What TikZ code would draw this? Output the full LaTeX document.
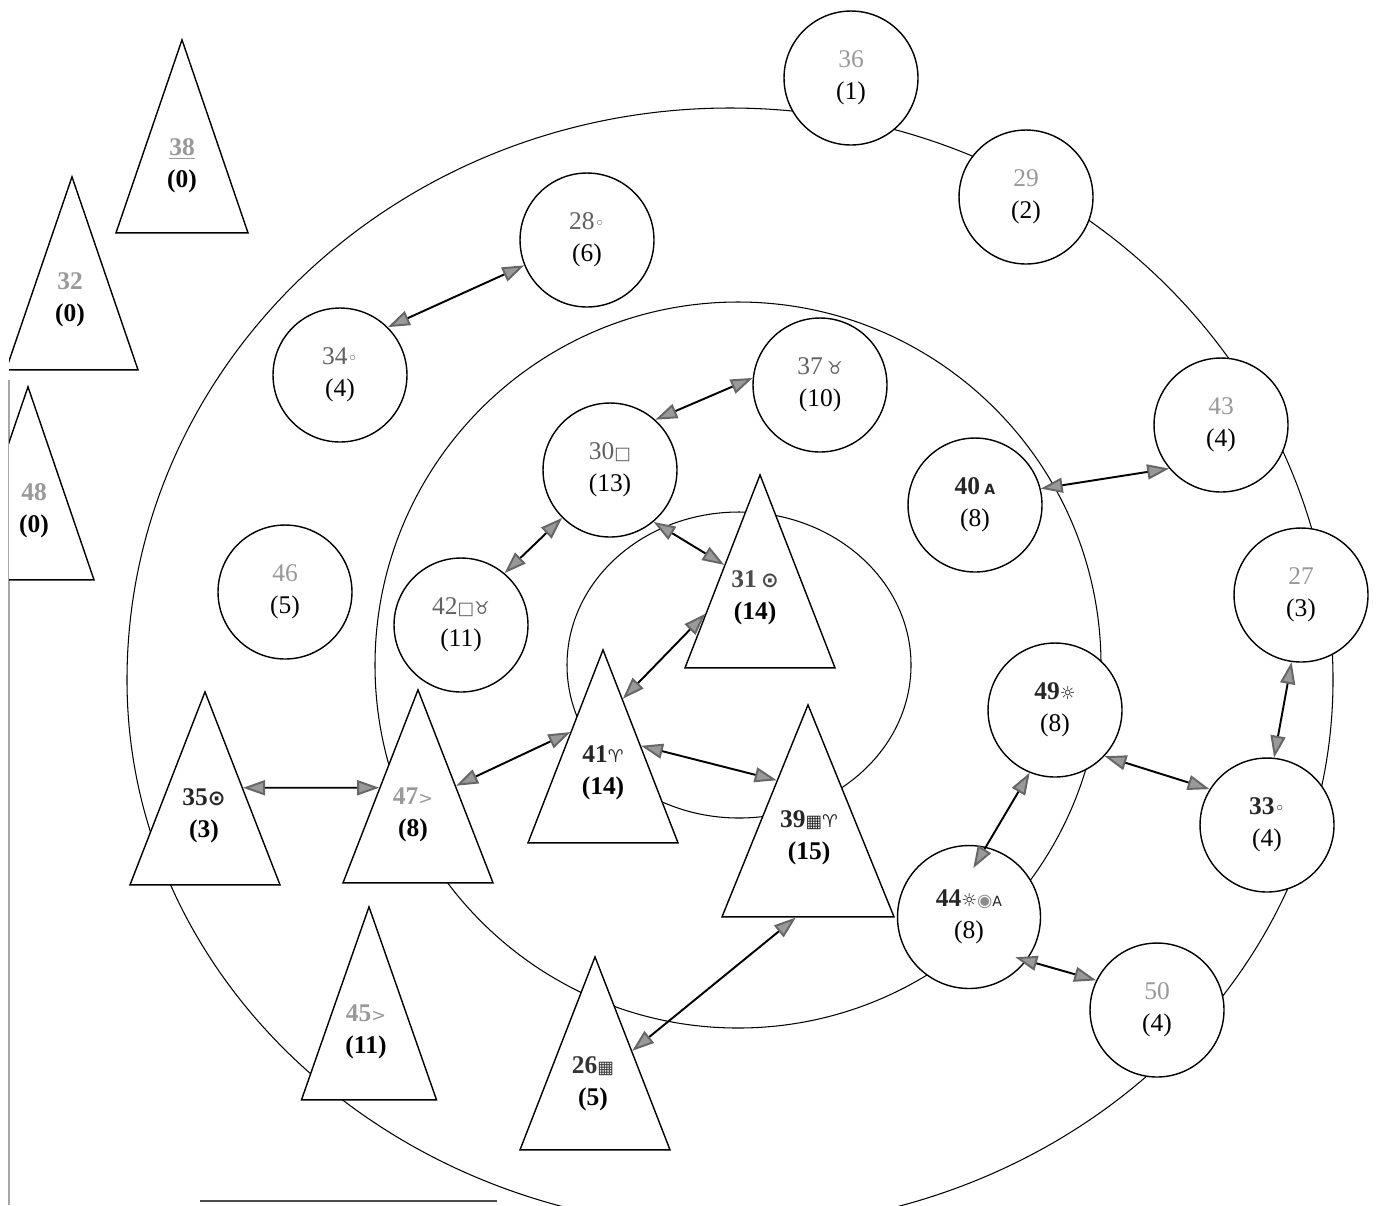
\documentclass[tikz,border=0pt]{standalone}
\usepackage{fontspec}
\setmainfont{Liberation Serif}
\newfontfamily\symf{DejaVu Sans}
\usetikzlibrary{shapes.geometric,arrows.meta,calc}
% small marker glyphs set after the node numbers
\newcommand{\sy}[1]{{\symf\fontsize{10}{10}\selectfont\mdseries #1}}
\newcommand{\syb}[1]{{\symf\fontsize{12}{12}\selectfont\bfseries #1}}

\begin{document}
\begin{tikzpicture}[x=0.02cm,y=-0.02cm,
  every node/.style={font=\fontsize{14.5}{18}\selectfont},
  ring/.style={line width=0.6pt},
  circ/.style={circle,draw,line width=0.8pt,fill=white,minimum size=2.68cm,inner sep=0pt,align=center},
  tri/.style={isosceles triangle,shape border rotate=90,isosceles triangle stretches,
    draw,line width=0.8pt,fill=white,minimum width=3cm,minimum height=3.86cm,inner sep=0pt,anchor=apex},
  tlab/.style={align=center,inner sep=0pt,font=\fontsize{14.5}{18}\selectfont\bfseries},
  conn/.style={line width=1.1pt,<->,
    >={Triangle[length=0.44cm,width=0.3cm,fill=black!40,color=black!60]}},
]
\path[use as bounding box] (0,0) rectangle (1378,1205);
\clip (0,0) rectangle (1378,1205);

% page edge lines
\draw[black!35,line width=0.6pt] (9,380) -- (9,1205);
\draw[black!70,line width=0.8pt] (200,1201) -- (497,1201);

% the three rings
\draw[ring] (127,680) arc[start angle=180,end angle=360,x radius=603,y radius=572]
            arc[start angle=0,end angle=180,x radius=603,y radius=548];
\draw[ring] (738,665) circle[radius=363];
\draw[ring] (739,665) ellipse[x radius=172,y radius=153];

% triangles
\node[tri,minimum width=2.64cm] (t38) at (182,38) {};
\begin{scope}
  \clip (9,0) rectangle (1378,1205);
  \node[tri,minimum width=2.64cm] (t32) at (72,175) {};
  \node[tri,minimum width=2.64cm] (t48) at (28,385) {};
\end{scope}
\node[tri] (t31) at (760,473) {};
\node[tri] (t41) at (603,648) {};
\node[tri,minimum width=3.44cm,minimum height=4.24cm] (t39) at (808,703) {};
\node[tri] (t35) at (205,690) {};
\node[tri] (t47) at (418,688) {};
\node[tri,minimum width=2.7cm] (t45) at (369,905) {};
\node[tri] (t26) at (595,955) {};

\node[tlab] (l38) at (182,166) {{\color{black!40}\underline{38}}\\(0)};
\node[tlab] (l32) at (70,300) {{\color{black!40}32}\\(0)};
\node[tlab] (l48) at (34,511) {{\color{black!40}48}\\(0)};
\node[tlab] (l31) at (755,598) {{\color{black!70}31\,\syb{⊙}}\\(14)};
\node[tlab] (l41) at (603,773) {{\color{black!85}41\sy{♈}}\\(14)};
\node[tlab] (l39) at (809,838) {{\color{black!85}39\sy{▦♈}}\\(15)};
\node[tlab] (l35) at (204,816) {{\color{black!85}35\syb{⊙}}\\(3)};
\node[tlab] (l47) at (413,815) {{\color{black!40}47\sy{>}}\\(8)};
\node[tlab] (l45) at (366,1032) {{\color{black!40}45\sy{>}}\\(11)};
\node[tlab] (l26) at (593,1084) {{\color{black!80}26\sy{▦}}\\(5)};

% circles
\node[circ] (n36) at (851,78)   {{\color{black!40}36}\\(1)};
\node[circ] (n29) at (1026,197) {{\color{black!40}29}\\(2)};
\node[circ] (n28) at (587,240)  {{\color{black!62}28\sy{◦}}\\(6)};
\node[circ] (n34) at (340,375)  {{\color{black!62}34\sy{◦}}\\(4)};
\node[circ] (n37) at (820,385)  {{\color{black!62}37\,\sy{♉}}\\(10)};
\node[circ] (n30) at (610,470)  {{\color{black!62}30\sy{□}}\\(13)};
\node[circ] (n43) at (1221,425) {{\color{black!40}43}\\(4)};
\node[circ] (n40) at (975,505)  {{\color{black!85}\bfseries 40\,{\symf\fontsize{8}{8}\selectfont\bfseries A}}\\(8)};
\node[circ] (n27) at (1301,595) {{\color{black!40}27}\\(3)};
\node[circ] (n46) at (285,592)  {{\color{black!40}46}\\(5)};
\node[circ] (n42) at (461,625)  {{\color{black!62}42\sy{□♉}}\\(11)};
\node[circ] (n49) at (1055,710) {{\color{black!85}\bfseries 49\sy{☼}}\\(8)};
\node[circ] (n33) at (1267,825) {{\color{black!85}\bfseries 33\sy{◦}}\\(4)};
\node[circ,minimum size=2.86cm] (n44) at (969,917) {{\color{black!85}\bfseries 44\sy{☼{\color{black!45}◉}{\fontsize{8}{8}\selectfont A}}}\\(8)};
\node[circ] (n50) at (1157,1010) {{\color{black!40}50}\\(4)};

% links
\draw[conn] (n34.45) -- (n28.202);
\draw[conn] (n30.48) -- (n37.174);
\draw[conn] (n30.225) -- (n42.50);
\draw[conn] (n30.310) -- ($(t31.apex)!0.47!(t31.left corner)$);
\draw[conn] (n40.14) -- (n43.220);
\draw[conn] ($(t31.apex)!0.72!(t31.left corner)$) -- ($(t41.apex)!0.26!(t41.right corner)$);
\draw[conn] ($(t41.apex)!0.43!(t41.left corner)$) -- ($(t47.apex)!0.5!(t47.right corner)$);
\draw[conn] ($(t41.apex)!0.5!(t41.right corner)$) -- ($(t39.apex)!0.36!(t39.left corner)$);
\draw[conn] ($(t35.apex)!0.5!(t35.right corner)$) -- ($(t47.apex)!0.51!(t47.left corner)$);
\draw[conn] (n27.262) -- (n33.84);
\draw[conn] (n49.317) -- (n33.148);
\draw[conn] (n49.248) -- ($(n44.center)!0.68!(n44.85)$);
\draw[conn] ($(t39.left corner)!0.43!(t39.right corner)$) -- ($(t26.apex)!0.49!(t26.right corner)$);
\draw[conn] ($(n44.center)!0.85!(n44.319)$) -- (n50.154);
\end{tikzpicture}
\end{document}
